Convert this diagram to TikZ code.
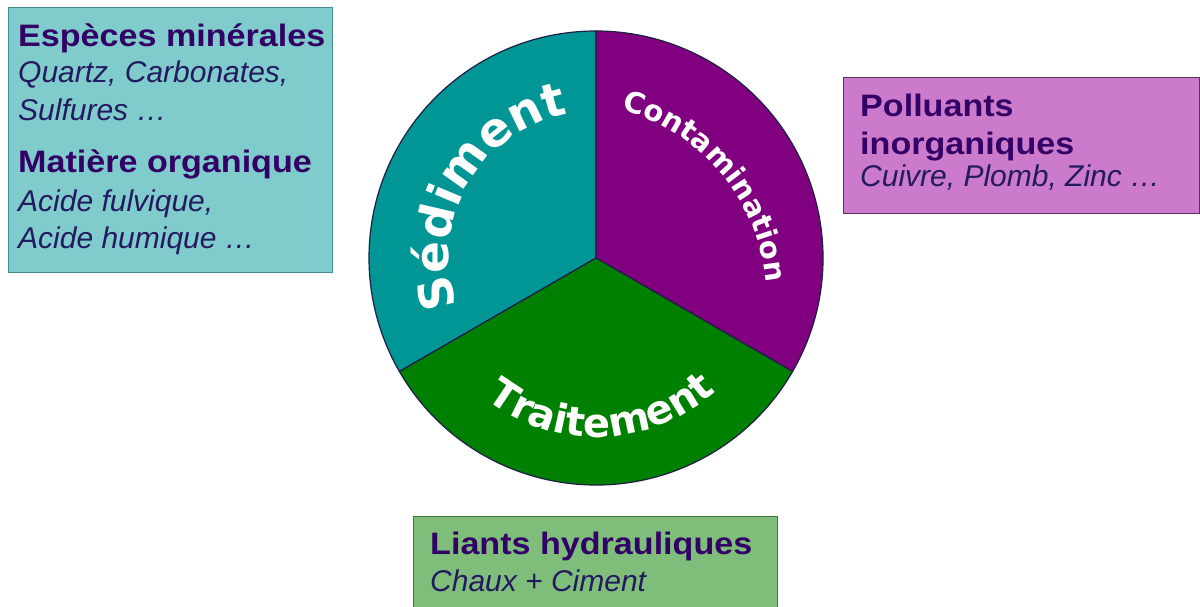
\documentclass[tikz,border=0pt]{standalone}
\usepackage{fontspec}
\setmainfont{Liberation Sans}
\newfontfamily\ttlfont{Liberation Sans}[FakeStretch=1.1]
\newfontfamily\piefont{DejaVu Sans}
\usetikzlibrary{decorations.text}
\definecolor{sedteal}{RGB}{0,150,150}
\definecolor{conpurple}{RGB}{128,0,128}
\definecolor{trtgreen}{RGB}{0,128,0}
\definecolor{boxteal}{RGB}{128,204,204}
\definecolor{boxteallin}{RGB}{70,140,140}
\definecolor{boxpink}{RGB}{204,122,204}
\definecolor{boxpinklin}{RGB}{90,50,90}
\definecolor{boxgreen}{RGB}{126,190,122}
\definecolor{boxgreenlin}{RGB}{60,120,60}
\definecolor{ttlcol}{RGB}{51,0,102}
\definecolor{subcol}{RGB}{36,26,96}
\definecolor{pieline}{RGB}{30,30,70}
\begin{document}
\begin{tikzpicture}[x=1pt,y=1pt,
  infobox/.style={draw, line width=1.2pt, inner sep=0pt, anchor=north west},
  ttl/.style={anchor=base west, inner sep=0pt, text=ttlcol, font=\ttlfont\bfseries\fontsize{31}{31}\selectfont},
  sub/.style={anchor=base west, inner sep=0pt, text=subcol, font=\itshape\fontsize{30}{30}\selectfont},
  wedge/.style={draw=pieline, line width=1.2pt, line join=round}]
\useasboundingbox (0,0) rectangle (1200,607);
\clip (0,0) rectangle (1200,607);
\fill[white] (0,0) rectangle (1200,607);

% boxes
\node[infobox, fill=boxteal, draw=boxteallin, minimum width=324pt, minimum height=265pt] (sedbox) at (8,600) {};
\node[infobox, fill=boxpink, draw=boxpinklin, minimum width=356pt, minimum height=136pt] (conbox) at (843,530) {};
\node[infobox, fill=boxgreen, draw=boxgreenlin, minimum width=364pt, minimum height=100pt] (trtbox) at (413,91) {};

% left box text
\node[ttl] (s1) at (18,560) {Espèces minérales};
\node[sub] (s2) at (18,524) {Quartz, Carbonates,};
\node[sub] (s3) at (18,486) {Sulfures …};
\node[ttl] (s4) at (18,434) {Matière organique};
\node[sub] (s5) at (18,395) {Acide fulvique,};
\node[sub] (s6) at (18,358) {Acide humique …};

% right box text
\node[ttl] (c1) at (860,490) {Polluants};
\node[ttl] (c2) at (860,452) {inorganiques};
\node[sub] (c3) at (860,420) {Cuivre, Plomb, Zinc …};

% bottom box text
\node[ttl] (t1) at (430,52) {Liants hydrauliques};
\node[sub] (t2) at (430,15) {Chaux + Ciment};

% pie
\begin{scope}[shift={(596,349)}]
\coordinate (O) at (0,0);
\filldraw[wedge, fill=sedteal] (O) -- (90:227pt) arc[start angle=90, end angle=210, radius=227pt] -- cycle;
\filldraw[wedge, fill=conpurple] (O) -- (-30:227pt) arc[start angle=-30, end angle=90, radius=227pt] -- cycle;
\filldraw[wedge, fill=trtgreen] (O) -- (210:227pt) arc[start angle=210, end angle=330, radius=227pt] -- cycle;

\path[decorate, decoration={text along path, text align=center,
  text={|\piefont\bfseries\fontsize{47}{47}\selectfont\color{white}|Sédiment}}]
  (208:147pt) arc[start angle=208, end angle=92, radius=147pt];
\begin{scope}[shift={(-25.5,-41.5)}]
\path[decorate, decoration={text along path, text align=center,
  text={|\piefont\bfseries\fontsize{29}{29}\selectfont\color{white}|Contamination}}]
  (85:196pt) arc[start angle=85, end angle=-5, radius=196pt];
\end{scope}
\path[decorate, decoration={text along path, text align=center,
  text={|\piefont\bfseries\fontsize{40}{40}\selectfont\color{white}|Traitement}}]
  (212:179pt) arc[start angle=212, end angle=332, radius=179pt];
\end{scope}
\end{tikzpicture}
\end{document}
